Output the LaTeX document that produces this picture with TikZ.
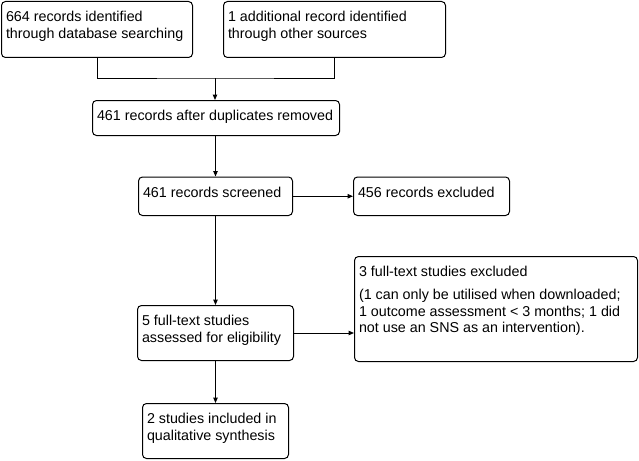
\documentclass[tikz,border=0pt]{standalone}
\usepackage{fontspec}
\setmainfont{Liberation Sans}
\usetikzlibrary{arrows.meta}
\newcommand{\btext}[3]{\parbox[c][#2pt][t]{#1pt}{\fontsize{14.3pt}{16.5pt}\selectfont\rule{0pt}{20pt}#3}}
\newcommand{\oneline}[1]{\mbox{#1}}
\tikzset{
  box/.style={draw, rounded corners=4pt, anchor=north west, inner xsep=4.5pt, inner ysep=0pt, line width=1pt},
  conn/.style={line width=1pt},
  arr/.style={line width=1pt, -{Triangle[length=5.5pt,width=4.5pt]}}
}
\begin{document}
\begin{tikzpicture}[x=1pt,y=-1pt]
\fill[white] (0,0) rectangle (639,460);
\useasboundingbox (0,0) rectangle (639,460);
\node[box] (a) at (1,1) {\btext{182}{56}{\oneline{664 records identified}\\\oneline{through database searching}}};
\node[box] (b) at (223,1) {\btext{213}{56}{\oneline{1 additional record identified}\\\oneline{through other sources}}};
\node[box] (c) at (92,100) {\btext{238}{35}{\oneline{461 records after duplicates removed}}};
\node[box] (d) at (138,176.5) {\btext{145}{38.5}{\oneline{461 records screened}}};
\node[box] (e) at (353,176.5) {\btext{147}{38.5}{\oneline{456 records excluded}}};
\node[box] (f) at (354,256) {\btext{274}{105}{\oneline{3 full-text studies excluded}\\[6.5pt]\oneline{(1 can only be utilised when downloaded;}\\\oneline{1 outcome assessment < 3 months; 1 did}\\\oneline{not use an SNS as an intervention).}}};
\node[box] (g) at (137,305) {\btext{147}{55}{\oneline{5 full-text studies}\\\oneline{assessed for eligibility}}};
\node[box] (h) at (142,403) {\btext{137}{55}{\oneline{2 studies included in}\\\oneline{qualitative synthesis}}};
\coordinate (j) at (215,78);
\draw[conn] (a.south) |- (j) -| (b.south);
\draw[arr] (j) -- (j |- c.north);
\draw[arr] (c.south -| d.north) -- (d.north);
\draw[arr] (d.east) -- (e.west);
\draw[arr] (d.south) -- (g.north);
\draw[arr] (g.east) -- (g.east -| f.west);
\draw[arr] (g.south) -- (h.north);
\end{tikzpicture}
\end{document}
